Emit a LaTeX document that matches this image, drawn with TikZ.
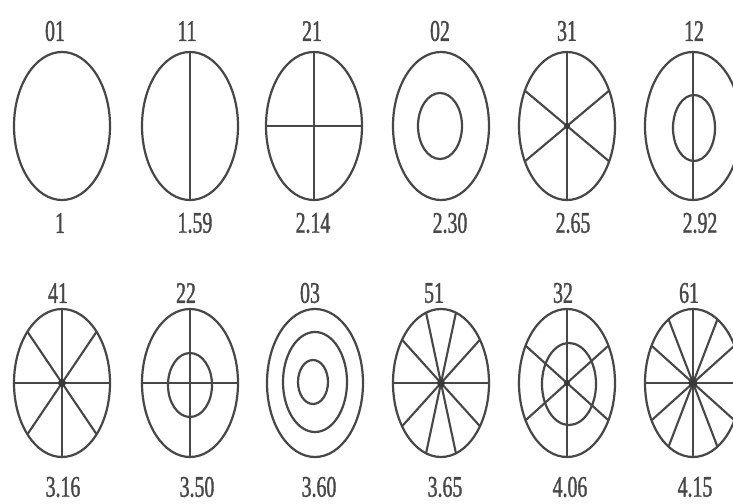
\documentclass[tikz,border=0pt]{standalone}
\usepackage{fontspec}
\setmainfont{Liberation Serif}
\newfontfamily\labfont[FakeStretch=0.66,FakeBold=1.2]{Liberation Serif}
\usetikzlibrary{shapes.geometric}
\definecolor{ink}{gray}{0.28}
\tikzset{
  modeoval/.style={ellipse, draw=ink, line width=2.2pt, inner sep=0pt, outer sep=0pt},
  outeroval/.style={modeoval, minimum width=96pt, minimum height=148pt},
  nodal/.style={draw=ink, line width=2.1pt},
  hub/.style={fill=ink!80!black},
  lab/.style={font=\labfont\fontsize{30}{32}\selectfont, text=ink, inner sep=0pt}
}
\begin{document}
\begin{tikzpicture}[x=1pt,y=-1pt]
\useasboundingbox (0,0) rectangle (733,503);
\clip (0,0) rectangle (733,503);
\fill[white] (0,0) rectangle (733,503);

% ---------- Row 1 ----------
\node[outeroval] (c01) at (62,126) {};
\node[lab] (l01) at (55,31) {01};
\node[lab] (v01) at (60,223) {1};

\node[outeroval] (c11) at (190,126) {};
\node[lab] (l11) at (187,31) {11};
\node[lab] (v11) at (195,223) {1.59};
\draw[nodal] (c11.north) -- (c11.south);

\node[outeroval] (c21) at (314,126) {};
\node[lab] (l21) at (312,31) {21};
\node[lab] (v21) at (313,223) {2.14};
\draw[nodal] (c21.north) -- (c21.south);
\draw[nodal] (c21.west) -- (c21.east);

\node[outeroval] (c02) at (441,126) {};
\node[modeoval, minimum width=44pt, minimum height=66pt] (i02) at (440,126) {};
\node[lab] (l02) at (440,31) {02};
\node[lab] (v02) at (450,223) {2.30};

\node[outeroval] (c31) at (567,126) {};
\node[lab] (l31) at (567,31) {31};
\node[lab] (v31) at (573,223) {2.65};
\draw[nodal] (c31.north) -- (c31.south);
\draw[nodal] (c31.40) -- (c31.220);
\draw[nodal] (c31.140) -- (c31.320);
\fill[hub] (c31.center) circle (3pt);

\node[outeroval] (c12) at (693,126) {};
\node[modeoval, minimum width=42pt, minimum height=66pt] (i12) at (694,128) {};
\node[lab] (l12) at (694,31) {12};
\node[lab] (v12) at (700,223) {2.92};
\draw[nodal] (c12.north) -- (c12.south);

% ---------- Row 2 ----------
\node[outeroval] (c41) at (62,383) {};
\node[lab] (l41) at (58,293) {41};
\node[lab] (v41) at (63,487) {3.16};
\draw[nodal] (c41.north) -- (c41.south);
\draw[nodal] (c41.west) -- (c41.east);
\draw[nodal] (c41.56) -- (c41.236);
\draw[nodal] (c41.124) -- (c41.304);
\fill[hub] (c41.center) circle (4pt);

\node[outeroval] (c22) at (190,383) {};
\node[modeoval, minimum width=44pt, minimum height=64pt] (i22) at (190,385) {};
\node[lab] (l22) at (186,293) {22};
\node[lab] (v22) at (197,487) {3.50};
\draw[nodal] (c22.north) -- (c22.south);
\draw[nodal] (c22.west) -- (c22.east);

\node[outeroval] (c03) at (315,383) {};
\node[modeoval, minimum width=64pt, minimum height=100pt] (m03) at (315,382) {};
\node[modeoval, minimum width=30pt, minimum height=44pt] (i03) at (313,382) {};
\node[lab] (l03) at (310,293) {03};
\node[lab] (v03) at (319,487) {3.60};

\node[outeroval] (c51) at (441,383) {};
\node[lab] (l51) at (434,293) {51};
\node[lab] (v51) at (445,487) {3.65};
\draw[nodal] (c51.west) -- (c51.east);
\draw[nodal] (c51.48) -- (c51.228);
\draw[nodal] (c51.78) -- (c51.258);
\draw[nodal] (c51.102) -- (c51.282);
\draw[nodal] (c51.132) -- (c51.312);
\fill[hub] (c51.center) circle (4pt);

\node[outeroval] (c32) at (567,383) {};
\node[modeoval, minimum width=54pt, minimum height=82pt] (i32) at (569,384) {};
\node[lab] (l32) at (563,293) {32};
\node[lab] (v32) at (570,487) {4.06};
\draw[nodal] (c32.north) -- (c32.south);
\draw[nodal] (c32.42) -- (c32.222);
\draw[nodal] (c32.138) -- (c32.318);
\fill[hub] (c32.center) circle (3pt);

\node[outeroval] (c61) at (693,383) {};
\node[lab] (l61) at (689,293) {61};
\node[lab] (v61) at (695,487) {4.15};
\draw[nodal] (c61.north) -- (c61.south);
\draw[nodal] (c61.west) -- (c61.east);
\draw[nodal] (c61.42) -- (c61.222);
\draw[nodal] (c61.69) -- (c61.249);
\draw[nodal] (c61.111) -- (c61.291);
\draw[nodal] (c61.138) -- (c61.318);
\fill[hub] (c61.center) circle (4.5pt);
\end{tikzpicture}
\end{document}
